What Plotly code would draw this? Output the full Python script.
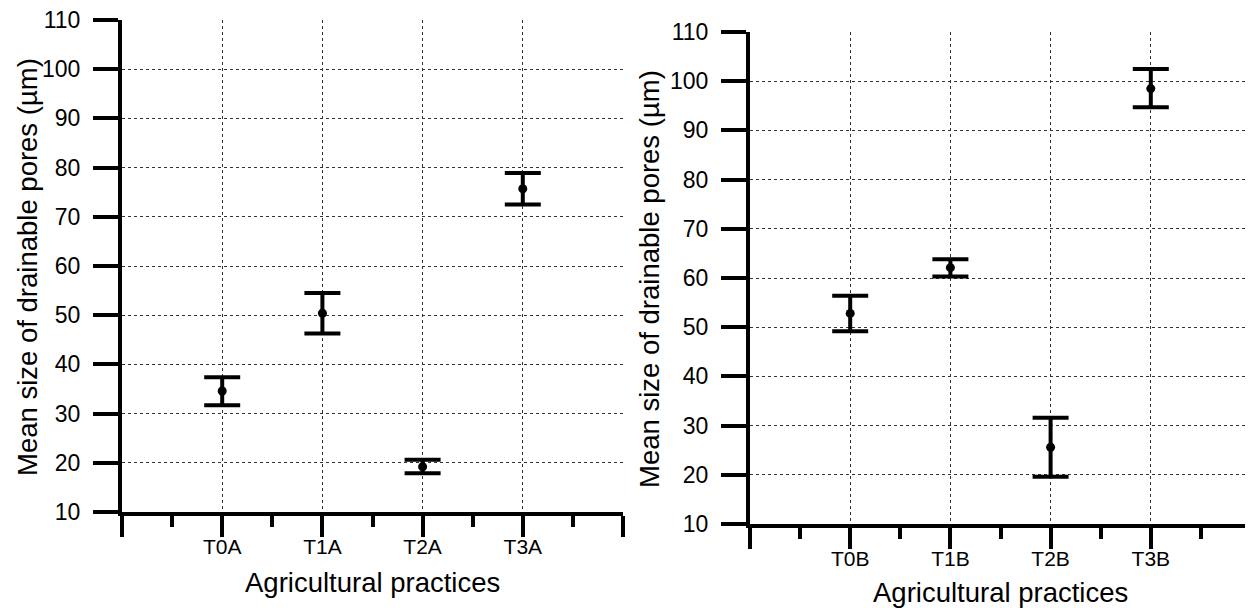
import plotly.graph_objects as go

# ---------------- data ----------------
cats_a = ["T0A", "T1A", "T2A", "T3A"]
mean_a = [34.6, 50.4, 19.2, 75.7]
upper_a = [37.4, 54.5, 20.6, 78.9]
lower_a = [31.7, 46.3, 17.9, 72.5]

cats_b = ["T0B", "T1B", "T2B", "T3B"]
mean_b = [52.8, 62.1, 25.6, 98.5]
upper_b = [56.4, 63.8, 31.6, 102.5]
lower_b = [49.2, 60.3, 19.6, 94.7]

y_ticks = [10, 20, 30, 40, 50, 60, 70, 80, 90, 100, 110]
y_title = "Mean size of drainable pores (µm)"
x_title = "Agricultural practices"

FONT = "Liberation Sans, Arial, Helvetica, sans-serif"

# page body margin offset (browser default) compensation
OFF = 8
W, H = 1253 - OFF, 608 - OFF


def px_x(X):
    return (X - OFF) / W


def px_y(Y):
    return (H - (Y - OFF)) / H


fig = go.Figure()


def add_series(cats, mean, upper, lower, xa, ya):
    xs = list(range(1, len(cats) + 1))
    fig.add_trace(go.Scatter(
        x=xs, y=mean, mode="markers", xaxis=xa, yaxis=ya,
        marker=dict(color="black", size=9, symbol="circle"),
        error_y=dict(
            type="data", symmetric=False,
            array=[u - m for u, m in zip(upper, mean)],
            arrayminus=[m - l for m, l in zip(mean, lower)],
            color="black", thickness=4, width=18, visible=True),
        showlegend=False, cliponaxis=False))


add_series(cats_a, mean_a, upper_a, lower_a, "x", "y")
add_series(cats_b, mean_b, upper_b, lower_b, "x2", "y2")


def xaxis_cfg(cats, domain, anchor):
    n = len(cats)
    return dict(
        domain=domain, anchor=anchor, range=[0, n + 1], automargin=False,
        tickmode="array", tickvals=list(range(0, n + 2)),
        ticktext=[""] + cats + [""],
        ticks="outside", ticklen=21, tickwidth=4, tickcolor="black",
        showline=True, linewidth=4, linecolor="black",
        showgrid=True, gridcolor="#333333", gridwidth=1, griddash="dot",
        zeroline=False, ticklabelstandoff=-8, ticklabeloverflow="allow",
        minor=dict(dtick=0.5, tick0=0, ticks="outside", ticklen=11,
                   tickwidth=4, tickcolor="black", showgrid=False),
        tickfont=dict(family=FONT, size=21, color="black"),
        fixedrange=True)


def yaxis_cfg(domain, anchor):
    return dict(
        domain=domain, anchor=anchor, range=[10, 110], automargin=False,
        tickmode="array", tickvals=y_ticks,
        ticks="outside", ticklen=25, tickwidth=4, tickcolor="black",
        showline=True, linewidth=4, linecolor="black",
        showgrid=True, gridcolor="#333333", gridwidth=1, griddash="dot",
        zeroline=False, ticklabelstandoff=8, ticklabeloverflow="allow",
        tickfont=dict(family=FONT, size=23, color="black"),
        fixedrange=True)


fig.update_layout(
    width=W, height=H,
    margin=dict(l=0, r=0, t=0, b=0, pad=0, autoexpand=False),
    paper_bgcolor="white", plot_bgcolor="white",
    font=dict(family=FONT, color="black"),
    xaxis=xaxis_cfg(cats_a, [px_x(122), px_x(623)], "y"),
    yaxis=yaxis_cfg([px_y(512), px_y(20)], "x"),
    xaxis2=xaxis_cfg(cats_b, [px_x(750), min(1.0, px_x(1251))], "y2"),
    yaxis2=yaxis_cfg([px_y(524), px_y(32)], "x2"),
    annotations=[
        dict(text=y_title, xref="paper", yref="paper", x=px_x(27), y=px_y(267),
             textangle=-90, showarrow=False, xanchor="center", yanchor="middle",
             font=dict(family=FONT, size=27.5, color="black")),
        dict(text=y_title, xref="paper", yref="paper", x=px_x(649), y=px_y(279),
             textangle=-90, showarrow=False, xanchor="center", yanchor="middle",
             font=dict(family=FONT, size=27.5, color="black")),
        dict(text=x_title, xref="paper", yref="paper", x=px_x(372), y=px_y(582),
             showarrow=False, xanchor="center", yanchor="middle",
             font=dict(family=FONT, size=27.5, color="black")),
        dict(text=x_title, xref="paper", yref="paper", x=px_x(1000), y=px_y(592),
             showarrow=False, xanchor="center", yanchor="middle",
             font=dict(family=FONT, size=27.5, color="black")),
    ],
)

fig.write_html("out.html")
